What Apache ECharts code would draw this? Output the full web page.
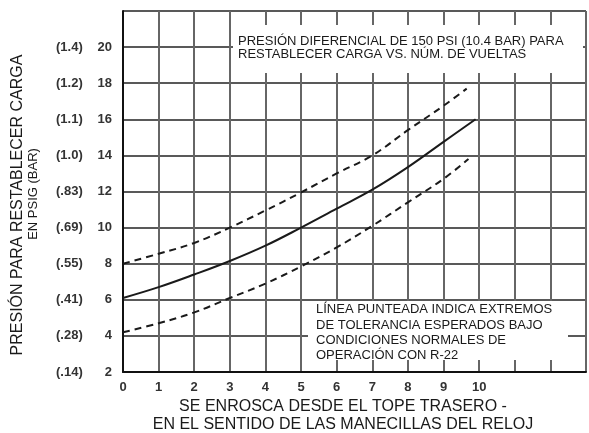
<!DOCTYPE html>
<html>
<head>
<meta charset="utf-8">
<script src="https://cdn.jsdelivr.net/npm/echarts@6/dist/echarts.min.js"></script>
<style>
  html, body { margin: 0; padding: 0; background: #fff; }
  #chart { width: 589px; height: 433px; }
</style>
</head>
<body>
<div id="chart"></div>
<script>
// vueltas (eje x) y presión en psig
const nominalX = [0, 1, 2, 3, 4, 5, 6, 7, 8, 9, 9.9];
const nominalY = [6.1, 6.7, 7.4, 8.15, 9.0, 10.0, 11.05, 12.1, 13.35, 14.75, 16.0];
const upperX = [0, 1, 2, 3, 4, 5, 6, 7, 8, 9, 9.65];
const upperY = [8.0, 8.55, 9.15, 10.0, 10.95, 11.95, 13.0, 14.0, 15.4, 16.75, 17.7];
const lowerX = [0, 1, 2, 3, 4, 5, 6, 7, 8, 9, 9.7];
const lowerY = [4.2, 4.7, 5.3, 6.1, 6.9, 7.85, 8.9, 10.1, 11.4, 12.7, 13.8];

// etiquetas del eje y: psig y (bar)
const psigTicks = [2, 4, 6, 8, 10, 12, 14, 16, 18, 20];
const barLabels = ['(.14)', '(.28)', '(.41)', '(.55)', '(.69)', '(.83)', '(1.0)', '(1.1)', '(1.2)', '(1.4)'];

const titleTop = 'PRESIÓN DIFERENCIAL DE 150 PSI (10.4 BAR) PARA\nRESTABLECER CARGA VS. NÚM. DE VUELTAS';
const noteText = 'LÍNEA PUNTEADA INDICA EXTREMOS\nDE TOLERANCIA ESPERADOS BAJO\nCONDICIONES NORMALES DE\nOPERACIÓN CON R-22';

function pairs(xs, ys) {
    return xs.map((x, i) => [x, ys[i]]);
}

const font = '"Liberation Sans", Arial, sans-serif';
const ink = '#1a1a1a';

var myChart = echarts.init(document.getElementById('chart'));
myChart.setOption({
    animation: false,
    grid: { left: 123, right: -2, top: 11, bottom: 61 },
    xAxis: {
        type: 'value',
        min: 0,
        max: 13,
        interval: 1,
        axisLine: { show: true, lineStyle: { color: '#111', width: 2 } },
        axisTick: { show: false },
        splitLine: { show: true, lineStyle: { color: '#666', width: 2 } },
        axisLabel: {
            margin: 9,
            fontFamily: font,
            fontWeight: 'bold',
            fontSize: 13,
            color: '#333',
            formatter: (v) => (v <= 10 ? String(v) : '')
        }
    },
    yAxis: {
        type: 'value',
        min: 2,
        max: 22,
        interval: 2,
        axisLine: { show: true, lineStyle: { color: '#111', width: 2 } },
        axisTick: { show: false },
        splitLine: { show: true, lineStyle: { color: '#222', width: 1.6 } },
        axisLabel: {
            margin: 11,
            formatter: (v) => {
                let i = psigTicks.indexOf(v);
                if (i < 0) return '';
                return '{a|' + barLabels[i] + '}{b|' + v + '}';
            },
            rich: {
                a: { width: 40, align: 'left', fontFamily: font, fontWeight: 'bold', fontSize: 13, color: '#333' },
                b: { width: 16, align: 'right', fontFamily: font, fontWeight: 'bold', fontSize: 13, color: '#333' }
            }
        }
    },
    series: [
        {
            type: 'line',
            data: pairs(nominalX, nominalY),
            smooth: 0.4,
            showSymbol: false,
            lineStyle: { color: ink, width: 2 },
            z: 5
        },
        {
            type: 'line',
            data: pairs(upperX, upperY),
            smooth: 0.4,
            showSymbol: false,
            lineStyle: { color: ink, width: 2, type: [7, 5] },
            z: 5
        },
        {
            type: 'line',
            data: pairs(lowerX, lowerY),
            smooth: 0.4,
            showSymbol: false,
            lineStyle: { color: ink, width: 2, type: [7, 5] },
            z: 5
        }
    ],
    graphic: [
        { type: 'rect', z: 100, shape: { x: 233, y: 25, width: 350, height: 48 }, style: { fill: '#fff' } },
        { type: 'text', z: 101, left: 238, top: 35, style: { text: titleTop, font: '13px ' + font, fill: ink, lineHeight: 13 } },
        { type: 'rect', z: 100, shape: { x: 308, y: 301, width: 260, height: 59 }, style: { fill: '#fff' } },
        { type: 'text', z: 101, left: 316, top: 302, style: { text: noteText, font: '13px ' + font, fill: ink, lineHeight: 15.3 } },
        {
            type: 'text', z: 101, x: 18, y: 205, rotation: Math.PI / 2,
            style: { text: 'PRESIÓN PARA RESTABLECER CARGA', font: '16px ' + font, fill: ink, align: 'center', verticalAlign: 'middle' }
        },
        {
            type: 'text', z: 101, x: 33, y: 194, rotation: Math.PI / 2,
            style: { text: 'EN PSIG (BAR)', font: '13px ' + font, fill: ink, align: 'center', verticalAlign: 'middle' }
        },
        {
            type: 'text', z: 101, x: 343, y: 416,
            style: { text: 'SE ENROSCA DESDE EL TOPE TRASERO -\nEN EL SENTIDO DE LAS MANECILLAS DEL RELOJ', font: '16px ' + font, fill: ink, align: 'center', verticalAlign: 'middle', lineHeight: 18 }
        }
    ]
});
window.addEventListener('resize', function () {
    myChart.resize();
});
</script>
</body>
</html>
